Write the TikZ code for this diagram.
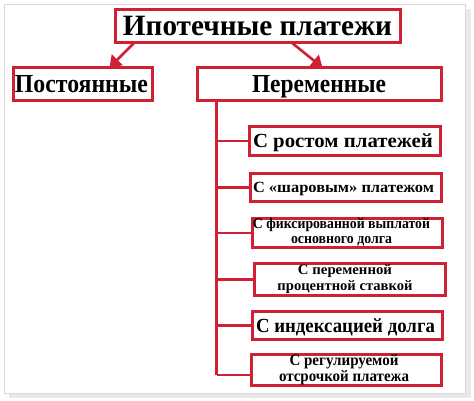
\documentclass[tikz,border=0pt]{standalone}
\usepackage{fontspec}
\setmainfont{Liberation Serif}
\usepackage{graphicx}
\usetikzlibrary{arrows.meta,calc}
\definecolor{rd}{RGB}{208,32,52}
\definecolor{frm}{RGB}{218,218,218}
\definecolor{shd}{RGB}{232,232,232}
% width, font size, text
\newcommand\fw[3]{\resizebox{#1pt}{\height}{\fontsize{#2}{#2}\selectfont\bfseries #3}}
\newcommand\lw[2]{\resizebox{#1pt}{\height}{#2}}
\begin{document}
\begin{tikzpicture}[x=1pt,y=-1pt,
  box/.style={draw=rd, line width=2.8pt, fill=white, inner sep=0pt, outer sep=0pt, anchor=center},
  one/.style={text depth=0pt},
  link/.style={draw=rd, line width=2.8pt},
  arr/.style={draw=rd, line width=2.6pt, -{Triangle[length=11pt,width=15pt]}}]
\useasboundingbox (0,0) rectangle (474,401);
% outer frame with shadow
\fill[shd] (9,9) rectangle (471,398);
\draw[frm, fill=white, line width=1.2pt] (4.5,4.5) rectangle (465.5,393.5);
% boxes
\node[box, one, minimum width=285pt, minimum height=33pt] (t) at (258,26) {\hbox{\kern-1pt\fw{269}{29.5}{Ипотечные платежи}}};
\node[box, one, minimum width=139pt, minimum height=33pt] (p) at (83,84) {\hbox{\kern-3pt\fw{133}{26}{Постоянные}}};
\node[box, one, minimum width=244pt, minimum height=33pt] (v) at (319.5,84) {\hbox{\kern-1pt\fw{134}{26}{Переменные}}};
\node[box, one, minimum width=191pt, minimum height=29pt] (b1) at (345,141) {\hbox{\kern-4pt\fw{180}{20}{С ростом платежей}}};
\node[box, one, minimum width=191pt, minimum height=28pt] (b2) at (346,187.5) {\hbox{\kern-5pt\fw{181}{15.5}{С «шаровым» платежом}}};
\node[box, minimum width=190pt, minimum height=29pt] (b3) at (347.5,233) {\hbox{\kern-12pt\fontsize{15}{14.5}\selectfont\bfseries\begin{tabular}{@{}c@{}}\lw{177}{С фиксированной выплатой}\\\lw{101}{основного долга}\end{tabular}}};
\node[box, minimum width=191pt, minimum height=28pt] (b4) at (350,279.5) {\hbox{\kern-10pt\fontsize{14.5}{16}\selectfont\bfseries\begin{tabular}{@{}c@{}}\lw{94}{С переменной}\\\lw{135}{процентной ставкой}\end{tabular}}};
\node[box, one, minimum width=190pt, minimum height=28pt] (b5) at (347.5,325.5) {\hbox{\kern-4pt\fw{179}{20}{С индексацией долга}}};
\node[box, minimum width=190pt, minimum height=29pt] (b6) at (346.5,370) {\hbox{\kern-5pt\fontsize{16}{15}\selectfont\bfseries\begin{tabular}{@{}c@{}}\lw{109}{С регулируемой}\\\lw{130}{отсрочкой платежа}\end{tabular}}};
% arrows from title
\draw[arr] ($(t.south west)+(19,0)$) -- ($(p.north west)+(96,0)$);
\draw[arr] ($(t.south west)+(176,0)$) -- ($(v.north west)+(125,0)$);
% trunk
\coordinate (top) at ($(v.south west)+(19,0)$);
\coordinate (bot) at (top |- 0,375);
\draw[link] (top) -- (bot);
\draw[link] (b1.west -| top) -- (b1.west);
\draw[link] (b2.west -| top) -- (b2.west);
\draw[link] (b3.west -| top) -- (b3.west);
\draw[link] (b4.west -| top) -- (b4.west);
\draw[link] (b5.west -| top) -- (b5.west);
\draw[link] (bot) -- (bot -| b6.west);
\end{tikzpicture}
\end{document}
